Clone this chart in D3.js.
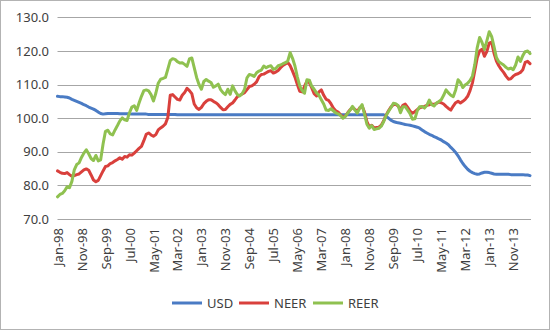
<!DOCTYPE html>
<html>
<head>
<meta charset="utf-8">
<script src="https://cdn.jsdelivr.net/npm/d3@7"></script>
<style>
  html, body { margin: 0; padding: 0; background: #fff; }
  svg { display: block; font-family: "Noto Sans", "Open Sans", sans-serif; }
</style>
</head>
<body>
<svg id="chart" width="550" height="330"></svg>
<script>
// Monthly observations, Jan-1998 to Jun-2014
const months = d3.timeMonths(new Date(1998, 0, 1), new Date(2014, 6, 1));
const fmtMonth = d3.timeFormat("%b-%y");
const categories = months.map(fmtMonth);

const tickLabels = ["Jan-98","Nov-98","Sep-99","Jul-00","May-01","Mar-02","Jan-03","Nov-03",
  "Sep-04","Jul-05","May-06","Mar-07","Jan-08","Nov-08","Sep-09","Jul-10","May-11","Mar-12",
  "Jan-13","Nov-13"];
const yTicks = [70, 80, 90, 100, 110, 120, 130];

const usd = [
  106.5,106.4,106.4,106.3,106.2,106.0,105.6,105.3,105.0,104.7,
  104.4,104.0,103.7,103.3,103.0,102.7,102.3,101.8,101.4,101.2,
  101.3,101.4,101.4,101.4,101.4,101.4,101.3,101.3,101.3,101.3,
  101.3,101.2,101.2,101.2,101.2,101.2,101.2,101.2,101.1,101.1,
  101.1,101.1,101.1,101.1,101.1,101.1,101.1,101.1,101.1,101.1,
  101.0,101.0,101.0,101.0,101.0,101.0,101.0,101.0,101.0,101.0,
  101.0,101.0,101.0,101.0,101.0,101.0,101.0,101.0,101.0,101.0,
  101.0,101.0,101.0,101.0,101.0,101.0,101.0,101.0,101.0,101.0,
  101.0,101.0,101.0,101.0,101.0,101.0,101.0,101.0,101.0,101.0,
  101.0,101.0,101.0,101.0,101.0,101.0,101.0,101.0,101.0,101.0,
  101.0,101.0,101.0,101.0,101.0,101.0,101.0,101.0,101.0,101.0,
  101.0,101.0,101.0,101.0,101.0,101.0,101.0,101.0,101.0,101.0,
  101.0,101.0,101.0,101.0,101.0,101.0,101.0,101.0,101.0,101.0,
  101.0,101.0,101.0,101.0,101.0,101.0,101.0,100.6,100.0,99.4,
  99.0,98.8,98.6,98.5,98.3,98.1,98.0,97.9,97.7,97.5,
  97.3,97.0,96.5,96.0,95.6,95.2,94.9,94.5,94.2,93.8,
  93.5,93.0,92.6,92.1,91.3,90.6,89.8,88.8,87.6,86.5,
  85.6,84.8,84.2,83.8,83.5,83.3,83.4,83.7,83.9,83.9,
  83.8,83.6,83.4,83.3,83.3,83.3,83.3,83.3,83.3,83.2,
  83.2,83.2,83.2,83.2,83.2,83.1,83.1,82.9
];

const neer = [
  84.3,83.9,83.6,83.5,83.8,83.2,82.7,82.9,83.2,83.4,
  84.0,84.6,84.9,84.5,83.1,81.6,81.1,81.5,82.9,84.3,
  85.6,85.8,86.5,86.8,87.3,87.7,88.2,87.8,88.6,88.4,
  89.1,89.0,89.6,90.3,91.0,91.6,93.3,95.2,95.6,95.0,
  94.6,95.1,96.5,97.1,97.6,98.3,100.2,106.8,107.0,106.3,
  105.6,105.4,106.8,107.6,108.9,108.2,107.3,104.2,103.1,102.6,
  103.2,104.3,105.0,105.5,105.5,105.0,104.6,104.0,103.2,102.5,
  102.6,103.4,104.1,104.5,105.4,106.4,106.8,107.2,107.6,108.5,
  109.4,109.6,110.1,110.8,112.3,113.0,113.1,113.5,113.9,114.1,
  113.4,113.7,114.2,115.0,115.7,116.1,116.6,115.6,114.0,112.2,
  110.0,108.0,107.8,109.5,111.0,110.6,109.0,107.3,106.6,107.8,
  108.4,106.8,105.6,105.3,104.3,103.0,102.2,101.8,101.0,100.3,
  100.6,101.6,102.5,103.2,102.6,102.0,103.1,103.6,101.8,99.0,
  97.4,97.9,97.1,97.2,97.3,97.9,99.2,100.9,102.2,103.3,
  104.0,104.1,103.6,102.6,103.8,104.2,103.2,102.1,101.5,101.9,
  102.5,103.1,103.3,103.5,103.8,104.0,104.2,104.1,104.4,104.8,
  104.6,104.2,103.5,102.9,102.4,103.6,104.6,105.0,104.5,105.0,
  105.6,106.5,108.2,110.5,114.2,118.0,120.0,120.5,118.4,119.8,
  122.3,122.6,119.3,117.0,115.6,114.5,113.6,112.5,111.6,111.7,
  112.5,113.0,113.2,113.6,114.4,116.6,116.9,116.2
];

const reer = [
  76.6,77.3,77.6,78.4,79.6,79.3,81.2,84.6,86.2,86.7,
  88.3,89.6,90.6,89.4,88.0,87.4,88.9,87.3,87.6,92.3,
  96.1,96.4,95.3,95.0,96.5,97.8,99.2,100.1,99.5,99.3,
  101.6,103.3,103.7,102.3,104.5,106.5,108.2,108.4,108.1,107.0,
  105.1,107.4,110.4,111.6,111.8,112.1,114.6,117.1,117.7,117.5,
  116.8,116.4,116.5,116.0,115.4,117.6,117.9,115.0,112.1,110.0,
  108.6,110.9,111.5,111.0,110.6,109.2,109.6,110.1,108.5,107.6,
  107.0,108.6,107.1,109.6,108.1,107.0,106.6,107.3,108.6,112.0,
  113.0,112.8,112.4,113.5,114.0,114.3,115.5,115.0,115.4,115.6,
  114.5,114.8,115.6,115.8,116.2,116.5,117.0,119.5,117.8,115.5,
  112.3,109.6,108.2,107.4,111.4,111.3,109.5,108.6,107.5,106.8,
  105.5,104.2,102.4,102.3,102.8,102.2,101.6,101.3,100.8,100.0,
  100.5,101.5,102.4,103.5,102.4,101.5,103.0,104.0,101.2,98.2,
  97.0,97.8,96.6,96.8,97.0,97.6,99.0,100.8,102.0,103.1,
  104.4,104.3,103.8,101.6,103.4,103.4,102.4,101.3,99.7,99.8,
  102.2,103.4,103.5,103.0,103.8,105.4,104.0,103.6,104.5,104.9,
  105.5,106.8,108.4,107.5,106.8,106.4,108.4,111.4,110.6,109.1,
  109.9,110.4,111.2,112.5,116.0,121.0,124.0,122.5,120.4,123.0,
  125.7,124.3,121.3,118.0,116.8,116.3,115.8,115.1,114.6,114.9,
  114.4,115.8,118.2,116.9,118.6,119.8,120.0,119.2
];

const series = [
  { name: "USD",  values: usd,  color: "#4a7bc4" },
  { name: "NEER", values: neer, color: "#d9403c" },
  { name: "REER", values: reer, color: "#8fc150" }
];

const svg = d3.select("#chart");
const W = 550, H = 330;
const plot = { left: 57.5, right: 531, top: 17.3, bottom: 219 };

svg.append("rect")
  .attr("x", 0.5).attr("y", 0.5)
  .attr("width", W - 1).attr("height", H - 1)
  .attr("fill", "#fff").attr("stroke", "#b3b3b3");

const x = d3.scalePoint().domain(categories).range([plot.left, plot.right - 1]);
const y = d3.scaleLinear().domain([70, 130]).range([plot.bottom, plot.top]);

// horizontal gridlines
svg.append("g")
  .selectAll("line")
  .data(yTicks)
  .join("line")
  .attr("x1", plot.left).attr("x2", plot.right)
  .attr("y1", d => Math.round(y(d)) + 0.5)
  .attr("y2", d => Math.round(y(d)) + 0.5)
  .attr("stroke", "#a6a6a6").attr("stroke-width", 1);

// y axis labels
const yAxis = d3.axisLeft(y).tickValues(yTicks).tickFormat(d3.format(".1f")).tickSize(0).tickPadding(0);
const gy = svg.append("g").attr("transform", "translate(49,0)").call(yAxis);
gy.select(".domain").remove();
gy.selectAll("text").attr("font-size", 13).attr("fill", "#404040")
  .attr("font-family", "Noto Sans, sans-serif");

// x axis labels, rotated
const xAxis = d3.axisBottom(x).tickValues(tickLabels).tickSize(0).tickPadding(0);
const gx = svg.append("g").attr("transform", `translate(0,${plot.bottom})`).call(xAxis);
gx.select(".domain").remove();
gx.selectAll("text")
  .attr("font-size", 13).attr("fill", "#404040")
  .attr("font-family", "Noto Sans, sans-serif")
  .attr("text-anchor", "end")
  .attr("transform", "rotate(-90)")
  .attr("x", -9).attr("y", 0).attr("dy", "0.35em");

// series lines
const line = d3.line()
  .x((d, i) => x(categories[i]))
  .y(d => y(d));

svg.append("g")
  .selectAll("path")
  .data(series)
  .join("path")
  .attr("d", d => line(d.values))
  .attr("fill", "none")
  .attr("stroke", d => d.color)
  .attr("stroke-width", 3)
  .attr("stroke-linejoin", "round")
  .attr("stroke-linecap", "round");

// legend
const legendX = [172, 239, 313];
const lg = svg.append("g").selectAll("g").data(series).join("g")
  .attr("transform", (d, i) => `translate(${legendX[i]},303)`);
lg.append("line").attr("x1", 0).attr("x2", 30).attr("y1", 0).attr("y2", 0)
  .attr("stroke", d => d.color).attr("stroke-width", 3);
lg.append("text").attr("x", 35).attr("y", 0).attr("dy", "0.35em")
  .attr("font-size", 13).attr("fill", "#404040")
  .text(d => d.name);
</script>
</body>
</html>
